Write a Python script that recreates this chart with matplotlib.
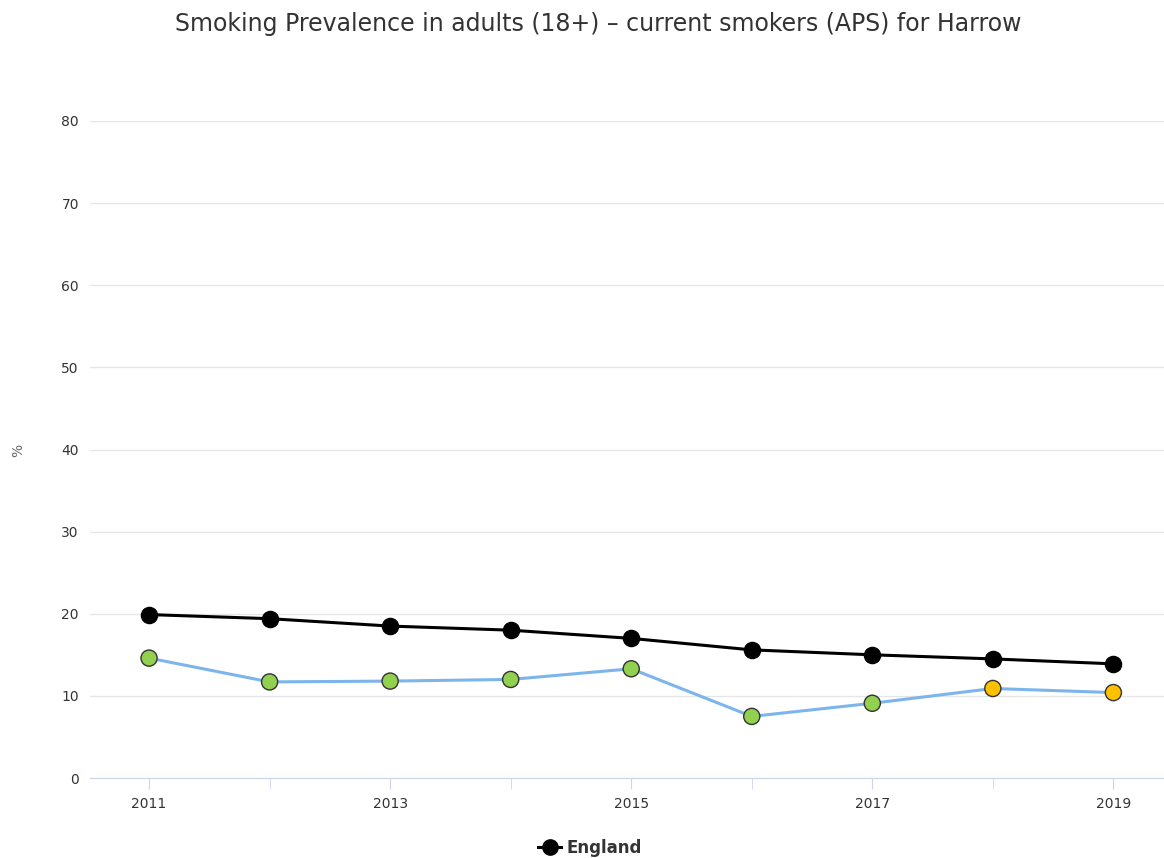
import matplotlib
matplotlib.use("Agg")
import matplotlib.pyplot as plt
from matplotlib.lines import Line2D

years = [2011, 2012, 2013, 2014, 2015, 2016, 2017, 2018, 2019]
england = [19.9, 19.4, 18.5, 18.0, 17.0, 15.6, 15.0, 14.5, 13.9]
harrow = [14.6, 11.7, 11.8, 12.0, 13.3, 7.5, 9.1, 10.9, 10.4]
harrow_colors = ["#92D050"] * 7 + ["#FFC000"] * 2
y_ticks = [0, 10, 20, 30, 40, 50, 60, 70, 80]
x_tick_labels = [2011, 2013, 2015, 2017, 2019]

plt.rcParams['font.family'] = ['DejaVu Sans']

fig = plt.figure(figsize=(11.64, 8.58), dpi=100)
W, H = 1164, 858
ax = fig.add_axes([90 / W, 1 - 778 / H, (1164 - 90) / W, (778 - 121) / H])

ax.set_xlim(2010.51, 2019.42)
ax.set_ylim(0, 80)

ax.plot(years, england, color="black", lw=2.2, zorder=3)
ax.scatter(years, england, s=135, color="black", edgecolors="black", linewidths=1, zorder=4)
ax.plot(years, harrow, color="#7CB5EC", lw=2.2, zorder=3)
ax.scatter(years, harrow, s=135, color=harrow_colors, edgecolors="#333333", linewidths=1, zorder=4)

ax.set_yticks(y_ticks)
ax.set_xticks(years, minor=True)
ax.set_xticks(x_tick_labels)
ax.set_xticklabels([str(x) for x in x_tick_labels])
ax.grid(axis="y", color="#e6e6e6", lw=1)
ax.set_axisbelow(True)
for s in ["top", "right", "left"]:
    ax.spines[s].set_visible(False)
ax.spines["bottom"].set_color("#ccd6eb")
ax.tick_params(axis="y", length=0, pad=8, labelsize=10, labelcolor="#333333")
ax.tick_params(axis="x", which="both", length=8, color="#ccd6eb", labelsize=10,
               labelcolor="#333333", pad=6)
ax.tick_params(axis="x", which="minor", length=8)

fig.text(18 / W, 1 - 450 / H, "%", rotation=90, ha="center", va="center",
         fontsize=10, color="#666666")
fig.text(598 / W, 1 - 24 / H, "Smoking Prevalence in adults (18+) – current smokers (APS) for Harrow",
         ha="center", va="center", fontsize=17, color="#333333")

handle = Line2D([], [], color="black", lw=2.2, marker="o", markersize=11)
leg = fig.legend([handle], ["England"], loc="center", bbox_to_anchor=(590 / W, 1 - 848 / H),
                 frameon=False, handlelength=1.4, handletextpad=0.3,
                 prop={"weight": "bold", "size": 12})
for t in leg.get_texts():
    t.set_color("#333333")

fig.savefig("out.png", dpi=100)
